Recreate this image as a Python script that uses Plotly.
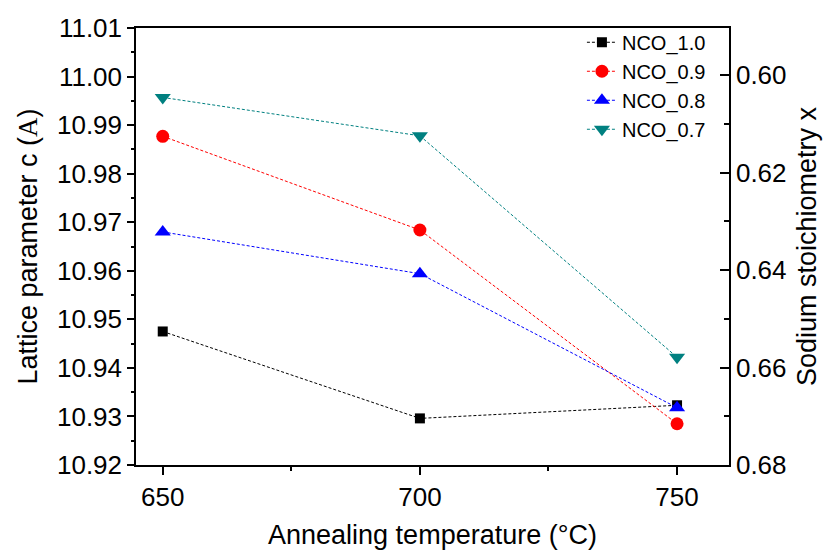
import plotly.graph_objects as go

# Annealing temperatures (°C)
temperature = [650, 700, 750]

# Lattice parameter c (Å) for each nominal composition
nco_10 = [10.9475, 10.9296, 10.9323]
nco_09 = [10.9877, 10.9684, 10.9285]
nco_08 = [10.9680, 10.9594, 10.9318]
nco_07 = [10.9957, 10.9878, 10.9422]

series_names = ["NCO_1.0", "NCO_0.9", "NCO_0.8", "NCO_0.7"]
series_values = [nco_10, nco_09, nco_08, nco_07]
series_colors = ["#000000", "#FF0000", "#0000FF", "#008080"]
series_symbols = ["square", "circle", "triangle-up", "triangle-down"]
series_sizes = [10, 13, 14, 14]

x_ticks = [650, 700, 750]

FONT = "Arial, 'Liberation Sans', sans-serif"
TICK_SIZE = 26
TITLE_SIZE = 27

fig = go.Figure()
for name, vals, col, sym, sz in zip(series_names, series_values, series_colors,
                                    series_symbols, series_sizes):
    fig.add_trace(go.Scatter(
        x=temperature, y=vals, name=name, mode="lines+markers",
        line=dict(color=col, width=1, dash="3px,2px"),
        marker=dict(color=col, symbol=sym, size=sz, line=dict(width=0)),
    ))

# secondary axis for sodium stoichiometry (no data, scale only)
fig.add_trace(go.Scatter(x=[], y=[], yaxis="y2", showlegend=False, hoverinfo="skip"))

axis_common = dict(
    showline=True, linecolor="black", linewidth=1.5,
    showgrid=False, zeroline=False, automargin=False,
    tickfont=dict(family=FONT, size=TICK_SIZE, color="black"),
    tickcolor="black", tickwidth=1.5,
)

fig.update_layout(
    width=830, height=552,
    margin=dict(l=136, r=101, t=28, b=87),
    paper_bgcolor="white", plot_bgcolor="white",
    font=dict(family=FONT, color="black"),
    showlegend=True,
    legend=dict(
        x=0.752, y=1.012, xanchor="left", yanchor="top",
        bgcolor="rgba(0,0,0,0)", borderwidth=0,
        font=dict(family=FONT, size=20, color="black"),
        tracegroupgap=0, itemwidth=30,
    ),
    xaxis=dict(
        **axis_common,
        range=[644.8, 760.1],
        tickmode="array", tickvals=x_ticks,
        ticks="outside", ticklen=8, mirror=True,
        minor=dict(dtick=25, tick0=650, ticks="outside", ticklen=4,
                   tickcolor="black", tickwidth=1.5),
        title=dict(text="Annealing temperature (°C)",
                   font=dict(family=FONT, size=TITLE_SIZE, color="black"), standoff=14),
    ),
    yaxis=dict(
        **axis_common,
        range=[10.92, 11.01],
        dtick=0.01, tick0=10.92, tickformat=".2f",
        ticks="outside", ticklen=7,
        minor=dict(dtick=0.005, ticks="outside", ticklen=3,
                   tickcolor="black", tickwidth=1.5),
        title=dict(text="Lattice parameter c (<span style='font-family:Liberation Serif'>A</span>)",
                   font=dict(family=FONT, size=TITLE_SIZE, color="black"), standoff=12),
    ),
    yaxis2=dict(
        **axis_common,
        overlaying="y", side="right", anchor="x",
        range=[0.68, 0.5903],
        dtick=0.02, tick0=0.60, tickformat=".2f",
        ticks="inside", ticklen=9,
        minor=dict(dtick=0.01, ticks="inside", ticklen=5,
                   tickcolor="black", tickwidth=1.5),
        title=dict(text="Sodium stoichiometry x",
                   font=dict(family=FONT, size=TITLE_SIZE, color="black"), standoff=12),
    ),
)

fig.write_html("out.html")
